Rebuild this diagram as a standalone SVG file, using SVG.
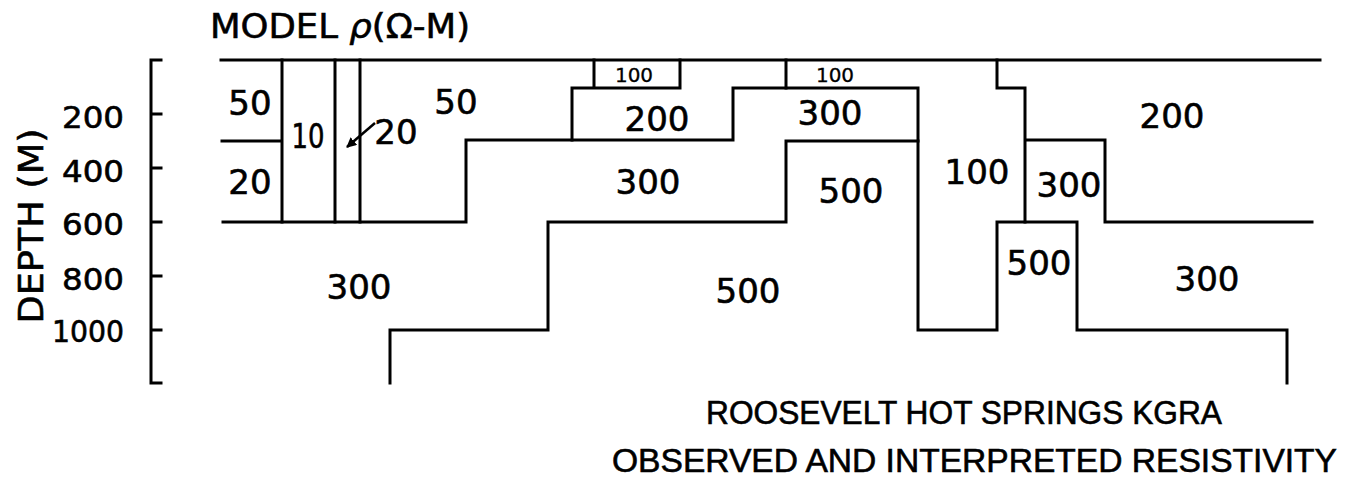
<svg xmlns="http://www.w3.org/2000/svg" width="1371" height="478" viewBox="0 0 1371 478">
<style>
.ln{fill:none;stroke:#000;stroke-width:3;stroke-linecap:square;stroke-linejoin:miter}
.num{font-family:"DejaVu Sans",sans-serif;font-size:34px;fill:#000;stroke:#000;stroke-width:0.6;text-anchor:middle}
.sm{font-size:20px;stroke-width:0.3}
.ax{font-family:"DejaVu Sans",sans-serif;font-size:30px;fill:#000;stroke:#000;stroke-width:0.6;text-anchor:end}
.ttl{font-family:"DejaVu Sans",sans-serif;font-size:34px;fill:#000;stroke:#000;stroke-width:0.6}
.cap{font-family:"Liberation Sans",sans-serif;font-size:33px;fill:#000;stroke:#000;stroke-width:0.6}
</style>
<defs>
<marker id="ah" viewBox="0 0 10 10" refX="9" refY="5" markerWidth="4" markerHeight="4" orient="auto" markerUnits="strokeWidth">
<path d="M0,0 L10,5 L0,10 Z" fill="#000"/>
</marker>
</defs>
<rect width="1371" height="478" fill="#fff"/>
<g id="axis">
<path class="ln" d="M161,60 H151 V383 H161 M151,114 H161 M151,168 H161 M151,222 H161 M151,276 H161 M151,330 H161"/>
<text class="ax" x="124" y="128" textLength="62" lengthAdjust="spacingAndGlyphs">200</text>
<text class="ax" x="124" y="182" textLength="62" lengthAdjust="spacingAndGlyphs">400</text>
<text class="ax" x="124" y="235" textLength="62" lengthAdjust="spacingAndGlyphs">600</text>
<text class="ax" x="124" y="290" textLength="62" lengthAdjust="spacingAndGlyphs">800</text>
<text class="ax" x="124" y="342" textLength="72" lengthAdjust="spacingAndGlyphs">1000</text>
<text class="ttl" transform="translate(43,226) rotate(-90)" text-anchor="middle" font-size="40" textLength="195" lengthAdjust="spacingAndGlyphs">DEPTH (M)</text>
</g>
<g id="title">
<text class="ttl" x="210" y="38" textLength="260" lengthAdjust="spacingAndGlyphs">MODEL <tspan font-style="italic">ρ</tspan>(Ω-M)</text>
</g>
<g id="connectors">
<path class="ln" d="M221,60 H1320"/>
<path class="ln" d="M222,141 H282 M282,60 V222 M335,60 V222 M360,60 V222"/>
<path class="ln" d="M223,222 H466 V140 H733 V88 H918 V330 H997 V222 H1077 V330 H1287 V383"/>
<path class="ln" d="M572,140 V88 H680 V60 M594,60 V88 M786,60 V88"/>
<path class="ln" d="M918,141 H786 V222 H548 V330 H390 V383"/>
<path class="ln" d="M997,60 V88 H1025 V222 M1025,140 H1105 V222 H1312"/>
<line x1="375" y1="123" x2="347" y2="147" stroke="#000" stroke-width="2.5" marker-end="url(#ah)"/>
</g>
<g id="labels">
<text class="num" x="250" y="115">50</text>
<text class="num" x="250" y="194">20</text>
<text class="num" x="308" y="148" textLength="33" lengthAdjust="spacingAndGlyphs">10</text>
<text class="num" x="396" y="144">20</text>
<text class="num" x="456" y="114">50</text>
<text class="num sm" x="634" y="82">100</text>
<text class="num sm" x="835" y="82">100</text>
<text class="num" x="657" y="131">200</text>
<text class="num" x="830" y="125">300</text>
<text class="num" x="648" y="194">300</text>
<text class="num" x="851" y="203">500</text>
<text class="num" x="977" y="184">100</text>
<text class="num" x="1172" y="128">200</text>
<text class="num" x="1069" y="197">300</text>
<text class="num" x="1039" y="275">500</text>
<text class="num" x="1207" y="291">300</text>
<text class="num" x="359" y="299">300</text>
<text class="num" x="748" y="303">500</text>
</g>
<g id="caption">
<text class="cap" x="706" y="424" textLength="516" lengthAdjust="spacingAndGlyphs">ROOSEVELT HOT SPRINGS KGRA</text>
<text class="cap" x="612" y="472" textLength="725" lengthAdjust="spacingAndGlyphs">OBSERVED AND INTERPRETED RESISTIVITY</text>
</g>
</svg>
